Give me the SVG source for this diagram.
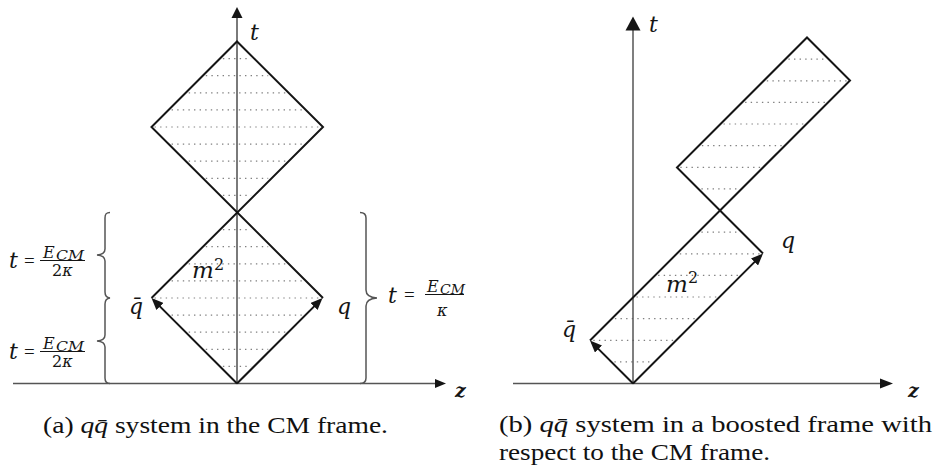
<svg xmlns="http://www.w3.org/2000/svg" width="934" height="475" viewBox="0 0 934 475">
<style>
.axisA{stroke:#7a7a7a;stroke-width:2;fill:none}
.axis{stroke:#555;stroke-width:1.5;fill:none}
.wl{stroke:#151515;stroke-width:2;fill:none;stroke-linejoin:miter}
.hatch{stroke:#808080;stroke-width:1.2;fill:none;stroke-dasharray:1.4 4.2}
.brace{stroke:#555;stroke-width:1.5;fill:none}
.m{font-family:"DejaVu Serif",serif;font-style:italic;fill:#151515}
.zz{font-family:"DejaVu Serif",serif;font-style:italic;font-weight:bold;font-size:19px;fill:#151515}
.eq{font-family:"Liberation Serif",serif;font-size:19px;fill:#151515}
.up{font-family:"DejaVu Serif",serif;fill:#151515}
.cap{font-family:"Liberation Serif",serif;font-size:23px;fill:#111}
.ah{fill:#151515}
.bar{stroke:#151515;stroke-width:1}
</style>
<defs>
<marker id="arr" viewBox="0 0 12 10" refX="9" refY="5" markerWidth="12" markerHeight="10" markerUnits="userSpaceOnUse" orient="auto">
<path d="M0,0 L12,5 L0,10 z" fill="#151515"/>
</marker>
</defs>

<!-- ============ Panel (a) ============ -->
<g id="panel-a">
  <g id="hatch-a" class="hatch">
    <path d="M222.9,58.6H251.1 M205.8,75.7H268.2 M188.7,92.8H285.3 M171.6,109.9H302.4 M154.5,127H319.5 M171.6,144.1H302.4 M188.7,161.2H285.3 M205.8,178.3H268.2 M222.9,195.4H251.1"/>
    <path d="M222.9,229.6H251.1 M205.8,246.7H268.2 M188.7,263.8H285.3 M171.6,280.9H302.4 M154.5,298H319.5 M171.6,315.1H302.4 M188.7,332.2H285.3 M205.8,349.3H268.2 M222.9,366.4H251.1"/>
  </g>
  <g id="axis-t-a">
    <line class="axisA" x1="237" y1="17" x2="237" y2="383.5"/>
    <polygon class="ah" points="237,7 231.5,18 242.5,18"/>
    <text class="m" x="250" y="40" font-size="22">t</text>
  </g>
  <g id="axis-z-a">
    <line class="axis" x1="13" y1="383.5" x2="437" y2="383.5"/>
    <polygon class="ah" points="446,383.5 435,379 435,388"/>
    <text class="zz" x="455" y="397">z</text>
  </g>
  <g id="connectors-a">
    <polyline class="wl" points="151.5,298 323,127 237,41.5 151.5,127 323,298"/>
    <line class="wl" x1="237" y1="383.5" x2="153.6" y2="300.1" marker-end="url(#arr)"/>
    <line class="wl" x1="237" y1="383.5" x2="320.4" y2="300.1" marker-end="url(#arr)"/>
  </g>
  <g id="labels-a">
    <text class="m" x="192" y="278" font-size="23">m</text>
    <text class="up" x="214" y="270" font-size="16">2</text>
    <text class="m" x="129" y="314" font-size="22">q̄</text>
    <text class="m" x="337" y="314" font-size="22">q</text>
  </g>
  <g id="braces-a">
    <path class="brace" d="M110,212.5 C106,212.5 105,214 105,218 L105,249 C105,252.5 103,254.5 97,255 C103,255.5 105,257.5 105,261 L105,292 C105,295.5 106,297.5 110,298 C106,298.5 105,300.5 105,304 L105,335 C105,338.5 103,340.5 97,341 C103,341.5 105,343.5 105,347 L105,378 C105,381.5 106,383.5 110,383.5"/>
    <path class="brace" d="M360,212.5 C364,212.5 366,214 366,218 L366,290 C366,295 369,297.5 377,298 C369,298.5 366,301 366,306 L366,378 C366,382 364,383.5 360,383.5"/>
  </g>
  <g id="label-t1">
    <text class="m" x="9" y="268" font-size="22">t</text>
    <text class="eq" x="24" y="267">=</text>
    <text class="m" x="43" y="257.5" font-size="16">E</text>
    <text class="m" x="56" y="259.5" font-size="12" textLength="28" lengthAdjust="spacingAndGlyphs">CM</text>
    <line class="bar" x1="40" y1="260.5" x2="85" y2="260.5"/>
    <text class="up" x="52" y="276" font-size="16">2<tspan font-style="italic">κ</tspan></text>
  </g>
  <g id="label-t2">
    <text class="m" x="9" y="359" font-size="22">t</text>
    <text class="eq" x="24" y="358">=</text>
    <text class="m" x="43" y="348.5" font-size="16">E</text>
    <text class="m" x="56" y="350.5" font-size="12" textLength="28" lengthAdjust="spacingAndGlyphs">CM</text>
    <line class="bar" x1="40" y1="351.5" x2="85" y2="351.5"/>
    <text class="up" x="52" y="367" font-size="16">2<tspan font-style="italic">κ</tspan></text>
  </g>
  <g id="label-t3">
    <text class="m" x="388" y="303" font-size="22">t</text>
    <text class="eq" x="404" y="301">=</text>
    <text class="m" x="427" y="291.5" font-size="16">E</text>
    <text class="m" x="440" y="293.5" font-size="12" textLength="25" lengthAdjust="spacingAndGlyphs">CM</text>
    <line class="bar" x1="425" y1="294.5" x2="464" y2="294.5"/>
    <text class="m" x="437" y="316" font-size="16">κ</text>
  </g>
  <text id="caption-a" class="cap" x="43" y="433" textLength="345" lengthAdjust="spacingAndGlyphs">(a) <tspan font-style="italic">qq̄</tspan> system in the CM frame.</text>
</g>

<!-- ============ Panel (b) ============ -->
<g id="panel-b">
  <g id="hatch-b" class="hatch">
    <path d="M788.4,59.1H825.6 M766.8,80.8H846.8 M745.1,102.4H825.1 M723.5,124H803.5 M701.9,145.6H781.9 M680.3,167.3H760.3 M701.4,188.9H738.6"/>
    <path d="M701.4,232.1H738.6 M679.8,253.8H759.8 M658.1,275.4H738.1 M636.5,297H716.5 M614.9,318.6H694.9 M593.3,340.3H673.3 M614.4,361.9H651.6"/>
  </g>
  <g id="axis-t-b">
    <line class="axis" x1="633" y1="29" x2="633" y2="383.5"/>
    <polygon class="ah" points="633,16.5 625.5,30.5 640.5,30.5"/>
    <text class="m" x="649" y="32" font-size="22">t</text>
  </g>
  <g id="axis-z-b">
    <line class="axis" x1="513" y1="383.5" x2="882" y2="383.5"/>
    <polygon class="ah" points="893,383.5 880,378.5 880,388.5"/>
    <text class="zz" x="908" y="397">z</text>
  </g>
  <g id="connectors-b">
    <polyline class="wl" points="590,340.5 850,80.5 807,37.5 677,167.5 763,253.5"/>
    <line class="wl" x1="633" y1="383.5" x2="592.1" y2="342.6" marker-end="url(#arr)"/>
    <line class="wl" x1="633" y1="383.5" x2="760.9" y2="255.6" marker-end="url(#arr)"/>
  </g>
  <g id="labels-b">
    <text class="m" x="666" y="291.5" font-size="23">m</text>
    <text class="up" x="688" y="283" font-size="16">2</text>
    <text class="m" x="562" y="337" font-size="22">q̄</text>
    <text class="m" x="781" y="248" font-size="22">q</text>
  </g>
  <g id="caption-b">
    <text class="cap" x="499" y="432" textLength="433" lengthAdjust="spacingAndGlyphs">(b) <tspan font-style="italic">qq̄</tspan> system in a boosted frame with</text>
    <text class="cap" x="499" y="460" textLength="271" lengthAdjust="spacingAndGlyphs">respect to the CM frame.</text>
  </g>
</g>
</svg>
